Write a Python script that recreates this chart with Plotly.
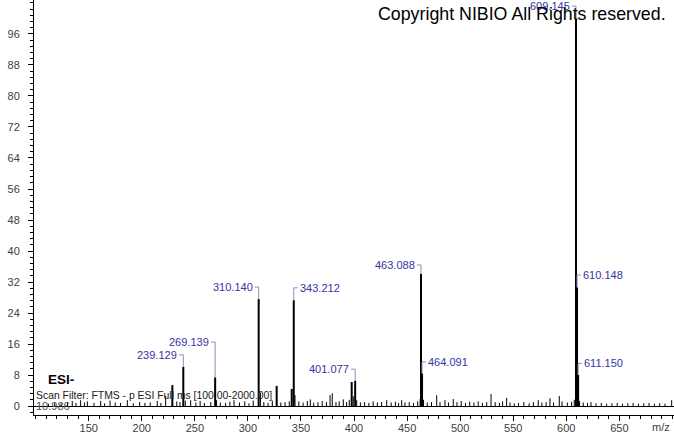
import plotly.graph_objects as go

# ---- data ----
major_mz = [228.8, 239.129, 269.139, 310.140, 327.1, 341.3, 343.212, 397.8, 401.077,
            463.088, 464.091, 609.145, 610.148, 611.150]
major_int = [5.4, 10.1, 7.4, 27.6, 5.2, 4.4, 27.3, 6.2, 6.5,
             34.1, 8.4, 100.0, 30.6, 8.0]

minor_mz = [112, 118, 124, 130, 134.5, 138, 142.4, 146, 148.7, 155, 161.3, 165, 170.1, 175, 180,
            186.4, 192, 198, 203, 208, 214.6, 218, 222.5, 233, 236, 241, 246.1, 251, 255, 259,
            265, 270.5, 274, 279, 283, 286.9, 292, 297, 301, 305, 311.8, 315, 319, 323, 331,
            335, 339, 344.4, 348, 352, 356, 358.8, 362, 366, 370, 374, 377.4, 379.5, 383, 386,
            389.9, 393, 395.5, 399.3, 402.5, 406, 410, 414, 418, 422, 426, 430.8, 435, 439, 442,
            444.9, 448, 452, 456, 460, 462.3, 465.5, 469, 473, 477.9, 481, 485.7, 489, 493.5, 497,
            501, 505, 509, 513, 517, 521, 525, 529.1, 533, 537, 540, 543.8, 547, 551, 555, 560,
            565, 569, 573.6, 577, 581, 584.6, 588, 593.4, 596, 601, 605, 607.5, 612.5, 616, 620,
            623.3, 628, 633, 638, 643, 648, 653, 658, 663, 668, 673, 678, 683, 688, 693, 699.3]
minor_int = [0.6, 0.8, 0.7, 1.0, 1.3, 0.8, 1.5, 0.9, 1.2, 0.8, 1.3, 0.7, 1.4, 0.9, 0.8,
             1.5, 0.7, 1.0, 0.8, 0.9, 1.3, 0.8, 2.6, 1.2, 1.0, 1.4, 1.5, 0.9, 1.3, 0.8,
             1.0, 1.5, 0.9, 0.8, 1.1, 1.5, 0.9, 1.2, 0.7, 1.4, 3.5, 1.0, 0.8, 1.4, 0.9,
             1.0, 1.2, 2.8, 1.2, 0.9, 1.3, 1.7, 0.8, 1.0, 1.3, 1.0, 2.8, 3.3, 1.0, 1.2,
             1.7, 1.0, 1.6, 2.5, 1.5, 0.9, 1.0, 0.8, 1.2, 0.9, 1.0, 1.5, 0.9, 1.1, 0.8,
             1.5, 0.9, 1.0, 0.8, 1.2, 1.8, 1.6, 0.9, 1.0, 2.8, 1.0, 1.5, 0.9, 1.8, 1.0,
             1.3, 0.8, 1.1, 0.9, 1.2, 0.8, 1.0, 3.1, 1.0, 0.8, 1.2, 2.1, 0.9, 0.7, 0.8, 1.0,
             0.7, 1.0, 1.5, 0.9, 1.0, 2.0, 0.9, 2.6, 1.2, 0.9, 1.1, 1.6, 1.3, 0.9, 0.8,
             1.0, 0.7, 0.8, 0.6, 0.7, 0.8, 0.6, 0.7, 0.8, 0.6, 0.7, 0.8, 0.6, 0.7, 0.6, 1.5]

label_mz = [239.129, 269.139, 310.140, 343.212, 401.077, 463.088, 464.091, 609.145, 610.148, 611.150]
label_int = [10.1, 7.4, 27.6, 27.3, 6.5, 34.1, 8.4, 100.0, 30.6, 8.0]
label_text = ["239.129", "269.139", "310.140", "343.212", "401.077", "463.088", "464.091",
              "609.145", "610.148", "611.150"]

# label layout (side of the bracket, label height)
label_side = ["L", "L", "L", "R", "L", "L", "R", "L", "R", "R"]
label_level = [13.2, 16.5, 30.7, 30.5, 9.5, 36.4, 11.4, 103.2, 33.8, 11.0]

x_tickvals = [150, 200, 250, 300, 350, 400, 450, 500, 550, 600, 650]
y_tickvals = [0, 8, 16, 24, 32, 40, 48, 56, 64, 72, 80, 88, 96]


def sticks(xs, ys):
    px, py = [], []
    for m, v in zip(xs, ys):
        px += [m, m, None]
        py += [0, v, None]
    return px, py


fig = go.Figure()

mx, my = sticks(minor_mz, minor_int)
fig.add_trace(go.Scatter(x=mx, y=my, mode="lines", line=dict(color="black", width=1),
                         hoverinfo="skip", showlegend=False))
Mx, My = sticks(major_mz, major_int)
fig.add_trace(go.Scatter(x=Mx, y=My, mode="lines", line=dict(color="black", width=2),
                         hoverinfo="skip", showlegend=False))

# brackets
hoff = 3.8
bx, by = [], []
annotations = []
for m, v, t, s, lv in zip(label_mz, label_int, label_text, label_side, label_level):
    if s == "L":
        bx += [m - hoff, m, m, None]
        by += [lv, lv, v, None]
        annotations.append(dict(x=m - hoff, y=lv, xref="x", yref="y", text=t, showarrow=False,
                                xanchor="right", yanchor="middle",
                                font=dict(family="Liberation Sans, Arial", size=11, color="#3434a4")))
    else:
        bx += [m, m, m + hoff, None]
        by += [v, lv, lv, None]
        annotations.append(dict(x=m + hoff, y=lv, xref="x", yref="y", text=t, showarrow=False,
                                xanchor="left", yanchor="middle",
                                font=dict(family="Liberation Sans, Arial", size=11, color="#3434a4")))
fig.add_trace(go.Scatter(x=bx, y=by, mode="lines", line=dict(color="#9090b4", width=1),
                         hoverinfo="skip", showlegend=False))

annotations += [
    dict(x=0.9906, y=0.966, xref="paper", yref="paper", text="Copyright NIBIO All Rights reserved.",
         showarrow=False, xanchor="right", yanchor="middle",
         font=dict(family="Liberation Sans, Arial", size=17.8, color="black")),
    dict(x=0.018, y=0.085, xref="paper", yref="paper", text="<b>ESI-</b>",
         showarrow=False, xanchor="left", yanchor="middle",
         font=dict(family="Liberation Sans, Arial", size=13.5, color="black")),
    dict(x=0.0, y=0.046, xref="paper", yref="paper",
         text="Scan Filter: FTMS - p ESI Full ms [100.00-2000.00]",
         showarrow=False, xanchor="left", yanchor="middle",
         font=dict(family="Liberation Sans, Arial", size=10.4, color="#202020")),
    dict(x=0.0, y=0.021, xref="paper", yref="paper", text="10.986",
         showarrow=False, xanchor="left", yanchor="middle",
         font=dict(family="Liberation Sans, Arial", size=11, color="#505050")),
    dict(x=0.997, y=-0.03, xref="paper", yref="paper", text="m/z",
         showarrow=False, xanchor="right", yanchor="middle",
         font=dict(family="Liberation Sans, Arial", size=11, color="#404040")),
]

fig.update_layout(
    width=674, height=434,
    margin=dict(l=34, r=0, t=0, b=19, pad=0, autoexpand=False),
    paper_bgcolor="white", plot_bgcolor="white",
    annotations=annotations,
    showlegend=False,
)
fig.update_xaxes(range=[98.45, 701.5], tickmode="array", tickvals=x_tickvals, automargin=False,
                 ticks="outside", ticklen=5, tickcolor="black", showline=True, linecolor="black",
                 linewidth=1, showgrid=False, zeroline=False, ticklabelstandoff=-2,
                 tickfont=dict(family="Liberation Sans, Arial", size=11, color="#404040"),
                 minor=dict(tickmode="linear", tick0=0, dtick=10, ticks="outside", ticklen=3,
                            tickcolor="black", showgrid=False))
fig.update_yaxes(range=[-2.32, 104.77], tickmode="array", tickvals=y_tickvals, automargin=False,
                 ticks="outside", ticklen=5, tickcolor="black", showline=True, linecolor="black",
                 linewidth=1, showgrid=False, zeroline=True, zerolinecolor="black", zerolinewidth=1,
                 ticklabelstandoff=6,
                 tickfont=dict(family="Liberation Sans, Arial", size=11, color="#404040"),
                 minor=dict(tickmode="linear", tick0=0, dtick=1.6, ticks="outside", ticklen=3,
                            tickcolor="black", showgrid=False))

fig.write_html("out.html", config={"displayModeBar": False},
               post_script="document.body.style.margin='0';document.body.style.padding='0';")
